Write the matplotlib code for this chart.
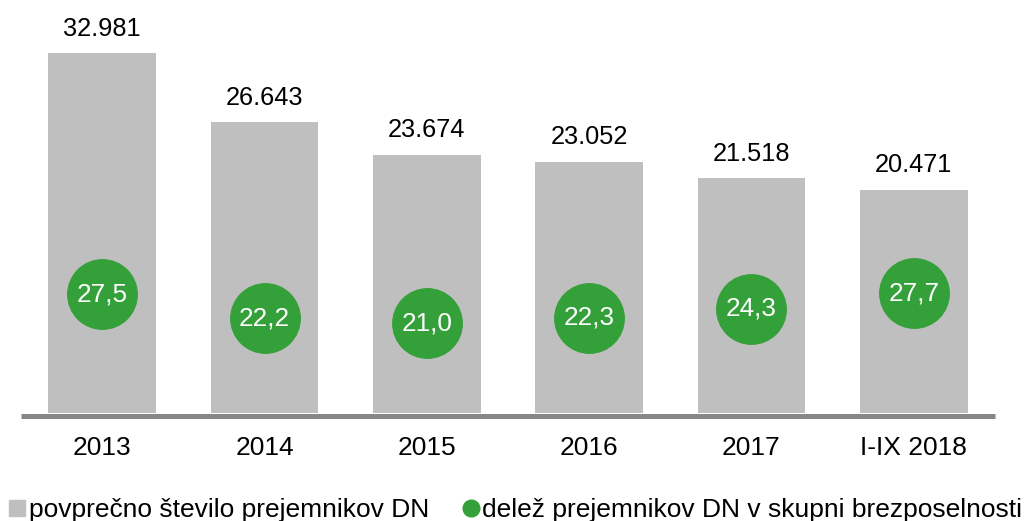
import matplotlib.pyplot as plt
from matplotlib.lines import Line2D

plt.rcParams["font.family"] = ["Liberation Sans", "DejaVu Sans"]

years = ["2013", "2014", "2015", "2016", "2017", "I-IX 2018"]
recipients = [32981, 26643, 23674, 23052, 21518, 20471]
share = [27.5, 22.2, 21.0, 22.3, 24.3, 27.7]

BAR = "#BFBFBF"
GREEN = "#34A039"
AXIS = "#878787"

W, H = 1032, 521
fig = plt.figure(figsize=(W / 100, H / 100), dpi=100)

# axes in pixel terms: x 21..995, y (from top) 10..415.5
left, right, top, bottom = 21, 995, 10, 415.5
ax = fig.add_axes([left / W, 1 - bottom / H, (right - left) / W, (bottom - top) / H])

k1 = 359.7 / 32981  # px per unit, primary
ax.set_ylim(-2.5 / k1, (413 - top) / k1)
ax.set_xlim(-0.5, len(years) - 0.5)

x = list(range(len(years)))
ax.bar(x, recipients, width=0.665, color=BAR, zorder=1)
for xi, v in zip(x, recipients):
    ax.annotate(f"{v:,}".replace(",", "."), (xi, v), xytext=(0, 9),
                textcoords="offset points", ha="center", va="bottom", fontsize=18.3)

for s in ("left", "right", "top"):
    ax.spines[s].set_visible(False)
ax.spines["bottom"].set_color(AXIS)
ax.spines["bottom"].set_linewidth(3.6)
ax.spines["bottom"].set_capstyle("butt")
ax.set_yticks([])
ax.set_xticks(x)
ax.set_xticklabels(years, fontsize=19)
ax.tick_params(axis="x", length=0, pad=15)

ax2 = ax.twinx()
k2 = 4.478
ax2.set_ylim(1 - 2.5 / k2, 1 + (413 - top) / k2)
ax2.set_yticks([])
for s in ax2.spines.values():
    s.set_visible(False)
ax2.plot(x, share, ls="none", marker="o", ms=50, color=GREEN, mec=GREEN, zorder=3)
for xi, v in zip(x, share):
    ax2.text(xi, v, f"{v:.1f}".replace(".", ","), ha="center", va="center",
             color="white", fontsize=18.8, zorder=4)

handles = [
    Line2D([], [], ls="none", marker="s", ms=12.2, color=BAR),
    Line2D([], [], ls="none", marker="o", ms=12, color=GREEN),
]
labels = ["povprečno število prejemnikov DN", "delež prejemnikov DN v skupni brezposelnosti"]
fig.legend(handles, labels, loc="lower left", bbox_to_anchor=(0.0035, -0.012), ncol=2,
           frameon=False, fontsize=19.0, handlelength=0.65, handletextpad=0.1,
           columnspacing=1.27, borderaxespad=0.2, borderpad=0.0)

fig.savefig("out.png", dpi=100)
